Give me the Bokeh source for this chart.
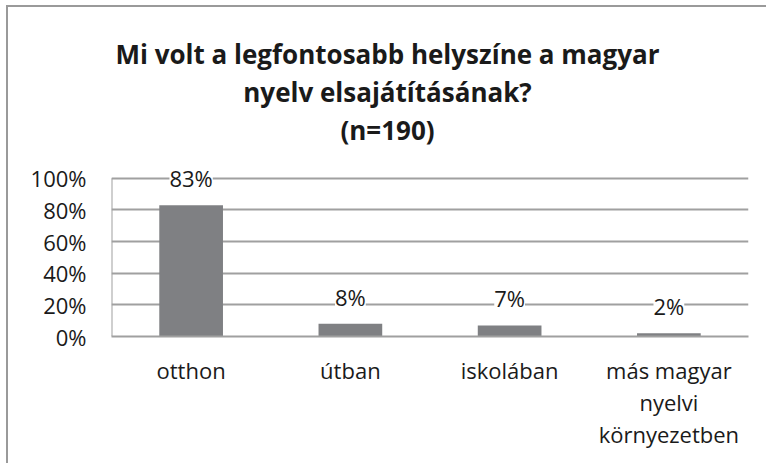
from bokeh.plotting import figure
from bokeh.layouts import column
from bokeh.models import ColumnDataSource, LabelSet, Title, FixedTicker, NumeralTickFormatter, Range1d
from bokeh.core.properties import value
from bokeh.embed import file_html
from bokeh.resources import INLINE

categories = ["otthon", "útban", "iskolában", "más magyar\nnyelvi\nkörnyezetben"]
values = [0.83, 0.08, 0.07, 0.02]
value_labels = ["83%", "8%", "7%", "2%"]
y_ticks = [0, 0.2, 0.4, 0.6, 0.8, 1.0]
title_lines = ["Mi volt a legfontosabb helyszíne a magyar", "nyelv elsajátításának?", "(n=190)"]

FONT = "Open Sans"
GRID = "#a0a0a0"
TEXT = "#1a1a1a"
W = 758

# ---- title block (separate figure so the title is centred on the whole chart) ----
tf = figure(width=W, height=142, output_backend="svg", toolbar_location=None,
            x_axis_location=None, y_axis_location=None,
            x_range=Range1d(0, 1), y_range=Range1d(0, 1),
            min_border_left=0, min_border_right=0, min_border_top=140, min_border_bottom=0)
tf.title = None
tf.grid.visible = False
tf.outline_line_color = None
tf.frame_align = False
for line in reversed(title_lines):
    tf.add_layout(Title(text=line, align="center", text_font=FONT, text_font_size="26px",
                        text_font_style="bold", text_color=TEXT, standoff=0), "above")

# ---- chart ----
src = ColumnDataSource(dict(cat=categories, val=values, lab=value_labels))

p = figure(x_range=categories, y_range=Range1d(0, 1.1), width=W, height=314,
           output_backend="svg", toolbar_location=None,
           min_border_left=103, min_border_right=18, min_border_top=13, min_border_bottom=127)
p.title = None
p.frame_align = False

p.vbar(x="cat", top="val", width=0.4, source=src, color="#7f8083", line_color=None)

# vertical axis line from 0% to 100%
p.segment(x0=[(categories[0], -0.5)], x1=[(categories[0], -0.5)], y0=[y_ticks[0]], y1=[y_ticks[-1]],
          line_color=GRID, line_width=2)

labels = LabelSet(x="cat", y="val", text="lab", source=src, y_offset=27,
                  text_align="center", text_baseline="middle",
                  text_font=value(FONT), text_font_size=value("22px"), text_color=TEXT,
                  background_fill_color="white", background_fill_alpha=1.0)
p.add_layout(labels)

p.outline_line_color = None
p.xgrid.grid_line_color = None
p.ygrid.grid_line_color = GRID
p.ygrid.grid_line_width = 2
p.ygrid.ticker = FixedTicker(ticks=y_ticks)

p.yaxis.ticker = FixedTicker(ticks=y_ticks)
p.yaxis.formatter = NumeralTickFormatter(format="0%")
p.yaxis.axis_line_color = None
p.yaxis.major_tick_line_color = None
p.yaxis.minor_tick_line_color = None
p.yaxis.major_label_standoff = 19
p.yaxis.major_label_text_font = FONT
p.yaxis.major_label_text_font_size = "22px"
p.yaxis.major_label_text_color = TEXT

p.xaxis.axis_line_color = GRID
p.xaxis.axis_line_width = 2
p.xaxis.major_tick_line_color = None
p.xaxis.minor_tick_line_color = None
p.xaxis.major_label_standoff = 12
p.xaxis.major_label_text_font = FONT
p.xaxis.major_label_text_font_size = "22px"
p.xaxis.major_label_text_color = TEXT
p.xaxis.major_label_text_line_height = 1.07

layout = column(tf, p, spacing=0)
layout.styles = {"border-top": "2px solid #9a9a9a", "border-left": "2px solid #9a9a9a",
                 "margin-left": "6px", "margin-top": "5px"}

open("out.html", "w").write(file_html(layout, INLINE))
